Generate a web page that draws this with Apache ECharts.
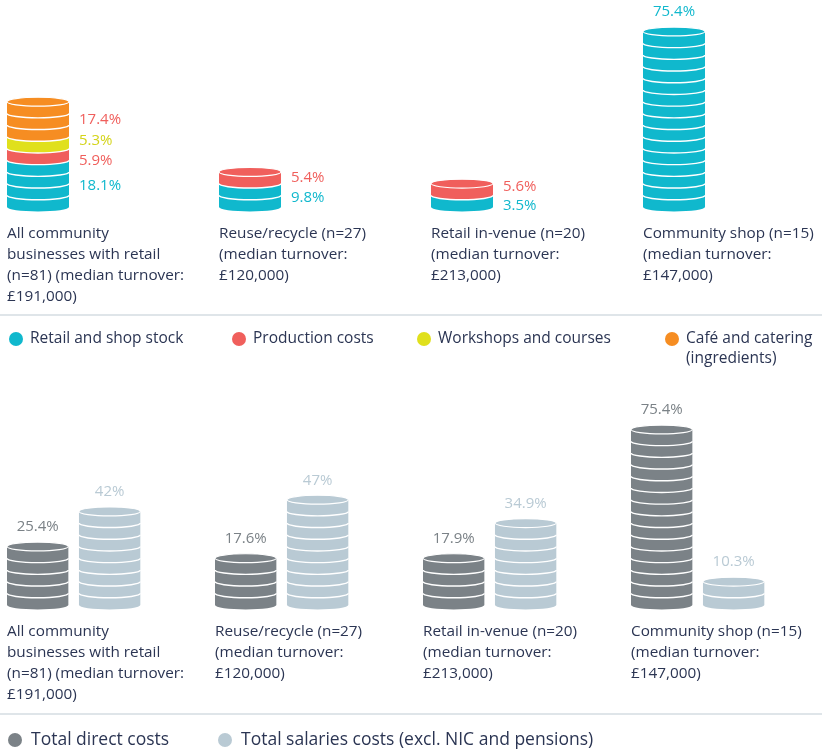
<!DOCTYPE html>
<html><head><meta charset="utf-8">
<script src="https://cdn.jsdelivr.net/npm/echarts@6/dist/echarts.min.js"></script>
<style>html,body{margin:0;padding:0;background:#fff}#c{width:828px;height:751px}</style>
</head><body><div id="c"></div>
<script>
// ---------------- data ----------------
const categories = [
  'All community\nbusinesses with retail\n(n=81) (median turnover:\n£191,000)',
  'Reuse/recycle (n=27)\n(median turnover:\n£120,000)',
  'Retail in-venue (n=20)\n(median turnover:\n£213,000)',
  'Community shop (n=15)\n(median turnover:\n£147,000)'
];
const topSeriesNames = ['Retail and shop stock', 'Production costs', 'Workshops and courses', 'Café and catering (ingredients)'];
const retailStock     = [18.1, 9.8, 3.5, 75.4];
const productionCosts = [5.9, 5.4, 5.6, null];
const workshops       = [5.3, null, null, null];
const cafeCatering    = [17.4, null, null, null];

const bottomSeriesNames = ['Total direct costs', 'Total salaries costs (excl. NIC and pensions)'];
const directCosts  = [25.4, 17.6, 17.9, 75.4];
const salaryCosts  = [42, 47, 34.9, 10.3];

const COIN_UNIT = 5; // percentage points per coin

// ---------------- styling ----------------
const FONT = "'Open Sans', sans-serif";
const TEXT_COLOR = '#2b3553';
const topColors = ['#10b8cd', '#f05f5c', '#e0e01c', '#f68d22'];
const topLabelColors = ['#10b8cd', '#f05f5c', '#d4d41a', '#f05f5c'];
const bottomColors = ['#7b8287', '#b9cad4'];
const bottomLabelColors = ['#7b8287', '#b9cad4'];
const topData = [retailStock, productionCosts, workshops, cafeCatering];
const bottomData = [directCosts, salaryCosts];
const LABEL_GAP = 19.5;

function spacing(api) { return api.coord([1, 0])[0] - api.coord([0, 0])[0]; }
function pitchOf(api, ci) { return Math.abs(api.coord([ci, 0])[1] - api.coord([ci, COIN_UNIT])[1]); }
function ryOf(api, ci) { return pitchOf(api, ci) * 0.38; }

// symmetric dodge of label positions (mids ordered bottom -> top, i.e. decreasing y)
function dodge(mids, gap) {
  let cl = mids.map(() => ({ n: 1 }));
  const centerOf = (start, n) => { let s = 0; for (let j = 0; j < n; j++) s += mids[start + j]; return s / n; };
  let changed = true;
  while (changed) {
    changed = false;
    let start = 0;
    for (let i = 0; i < cl.length - 1; i++) {
      const a = cl[i], b = cl[i + 1];
      const aTop = centerOf(start, a.n) - (a.n - 1) / 2 * gap;
      const bBottom = centerOf(start + a.n, b.n) + (b.n - 1) / 2 * gap;
      if (aTop - bBottom < gap) {
        cl.splice(i, 2, { n: a.n + b.n });
        changed = true; break;
      }
      start += a.n;
    }
  }
  const out = [];
  let idx = 0;
  cl.forEach(c => {
    const m = centerOf(idx, c.n);
    for (let j = 0; j < c.n; j++) out.push(m + ((c.n - 1) / 2 - j) * gap);
    idx += c.n;
  });
  return out;
}

function coinChildren(api, ci, c0, c1, xL, w, color, cap) {
  const out = [];
  const rx = w / 2, ry = ryOf(api, ci);
  for (let j = c0; j < c1; j++) {
    const yB = api.coord([ci, j * COIN_UNIT])[1];
    const yT = api.coord([ci, (j + 1) * COIN_UNIT])[1];
    out.push({ type: 'path', shape: { pathData: `M${xL} ${yT} L${xL} ${yB} A${rx} ${ry} 0 0 0 ${xL + w} ${yB} L${xL + w} ${yT} Z` }, style: { fill: color } });
    if (j > 0) out.push({ type: 'path', shape: { pathData: `M${xL} ${yB} A${rx} ${ry} 0 0 0 ${xL + w} ${yB}` }, style: { fill: null, stroke: '#fff', lineWidth: 1.4 } });
  }
  if (cap && c1 > c0) {
    const yT = api.coord([ci, c1 * COIN_UNIT])[1];
    out.push({ type: 'ellipse', shape: { cx: xL + rx, cy: yT, rx: rx, ry: ry }, style: { fill: color, stroke: '#fff', lineWidth: 1.2 } });
  }
  return out;
}

function topRender(k) {
  return function (params, api) {
    const ci = api.value(0);
    const v = topData[k][ci];
    if (v == null) return null;
    const sp = spacing(api);
    const xL = api.coord([ci, 0])[0];
    const w = sp * 0.2925;
    const ry = ryOf(api, ci);
    let lastIdx = -1;
    for (let s = 0; s < topData.length; s++) if (topData[s][ci] != null) lastIdx = s;
    let cum = 0, c0 = 0, c1 = 0, myPos = -1;
    const mids = [];
    for (let s = 0; s < topData.length; s++) {
      const sv = topData[s][ci];
      if (sv == null) continue;
      const a = Math.round(cum / COIN_UNIT), b = Math.round((cum + sv) / COIN_UNIT);
      cum += sv;
      const yBot = api.coord([ci, a * COIN_UNIT])[1] + ry;
      const yTop = api.coord([ci, b * COIN_UNIT])[1] - (s === lastIdx ? ry : 0);
      mids.push((yBot + yTop) / 2);
      if (s === k) { myPos = mids.length - 1; c0 = a; c1 = b; }
    }
    const ys = dodge(mids, LABEL_GAP);
    const children = coinChildren(api, ci, c0, c1, xL, w, topColors[k], k === lastIdx);
    const txt = v + '%';
    if (mids.length === 1) {
      const capTop = api.coord([ci, c1 * COIN_UNIT])[1] - ry;
      children.push({ type: 'text', style: { text: txt, x: xL + w / 2, y: capTop - 15, align: 'center', verticalAlign: 'middle', textAlign: 'center', textVerticalAlign: 'middle', fill: topLabelColors[k], font: '15px ' + FONT } });
    } else {
      children.push({ type: 'text', style: { text: txt, x: xL + w + 10, y: ys[myPos], align: 'left', verticalAlign: 'middle', textAlign: 'left', textVerticalAlign: 'middle', fill: topLabelColors[k], font: '15px ' + FONT } });
    }
    return { type: 'group', children: children };
  };
}

function bottomRender(k) {
  return function (params, api) {
    const ci = api.value(0);
    const v = bottomData[k][ci];
    if (v == null) return null;
    const sp = spacing(api);
    const xL = api.coord([ci, 0])[0] + (k === 0 ? 0 : sp * 0.346);
    const w = sp * 0.295;
    const ry = ryOf(api, ci);
    const n = Math.round(v / COIN_UNIT);
    const children = coinChildren(api, ci, 0, n, xL, w, bottomColors[k], true);
    const capTop = api.coord([ci, n * COIN_UNIT])[1] - ry;
    children.push({ type: 'text', style: { text: v + '%', x: xL + w / 2, y: capTop - 15, align: 'center', verticalAlign: 'middle', textAlign: 'center', textVerticalAlign: 'middle', fill: bottomLabelColors[k], font: '15px ' + FONT } });
    return { type: 'group', children: children };
  };
}

const axisLabelStyle = { show: true, interval: 0, align: 'left', verticalAlign: 'top', margin: 16, lineHeight: 21, fontSize: 15.3, fontFamily: FONT, color: TEXT_COLOR };

const series = [];
topSeriesNames.forEach((name, k) => {
  series.push({ name: name, type: 'custom', xAxisIndex: 0, yAxisIndex: 0, itemStyle: { color: topColors[k] },
    renderItem: topRender(k), encode: { x: 0, y: 1 },
    data: topData[k].map((v, i) => [i, v == null ? 0 : v]) });
});
bottomSeriesNames.forEach((name, k) => {
  series.push({ name: name, type: 'custom', xAxisIndex: 1, yAxisIndex: 1, itemStyle: { color: bottomColors[k] },
    renderItem: bottomRender(k), encode: { x: 0, y: 1 },
    data: bottomData[k].map((v, i) => [i, v]) });
});

function legendAt(name, left, top, size, extra, pad) {
  return Object.assign({ data: [name], left: left, top: top, padding: 0, icon: 'circle', itemWidth: 14, itemHeight: 14, itemGap: 0, selectedMode: false,
    textStyle: { fontSize: size, fontFamily: FONT, color: TEXT_COLOR, padding: [0, 0, 0, pad || 0] } }, extra || {});
}

const option = {
  animation: false,
  backgroundColor: '#fff',
  grid: [
    { left: 7, width: 636, top: 19.8, height: 187.2 },
    { left: 7, width: 624, top: 417.8, height: 187.2 }
  ],
  xAxis: [
    { gridIndex: 0, type: 'category', data: categories, boundaryGap: false, axisLine: { show: false }, axisTick: { show: false }, splitLine: { show: false }, axisLabel: axisLabelStyle },
    { gridIndex: 1, type: 'category', data: categories, boundaryGap: false, axisLine: { show: false }, axisTick: { show: false }, splitLine: { show: false }, axisLabel: axisLabelStyle }
  ],
  yAxis: [
    { gridIndex: 0, type: 'value', min: 0, max: 80, show: false },
    { gridIndex: 1, type: 'value', min: 0, max: 80, show: false }
  ],
  legend: [
    legendAt(topSeriesNames[0], 9, 331, 15.5, null, 2),
    legendAt(topSeriesNames[1], 232, 331, 15.5, null, 2),
    legendAt(topSeriesNames[2], 417, 331, 15.5, null, 2),
    legendAt(topSeriesNames[3], 665, 331, 15.5, { formatter: () => 'Café and catering' }, 2),
    legendAt(bottomSeriesNames[0], 8, 731, 17.5, null, 4),
    legendAt(bottomSeriesNames[1], 218, 731, 17.5, null, 4)
  ],
  graphic: [
    { type: 'line', shape: { x1: 0, y1: 315, x2: 822, y2: 315 }, style: { stroke: '#d5dde2', lineWidth: 1.5 } },
    { type: 'line', shape: { x1: 0, y1: 714, x2: 822, y2: 714 }, style: { stroke: '#d5dde2', lineWidth: 1.5 } },
    { type: 'text', left: 686, top: 351, style: { text: '(ingredients)', font: '15.5px ' + FONT, fill: TEXT_COLOR } }
  ],
  series: series
};
const chart = echarts.init(document.getElementById('c'), null, { renderer: 'canvas' });
chart.setOption(option);
</script>
</body></html>
